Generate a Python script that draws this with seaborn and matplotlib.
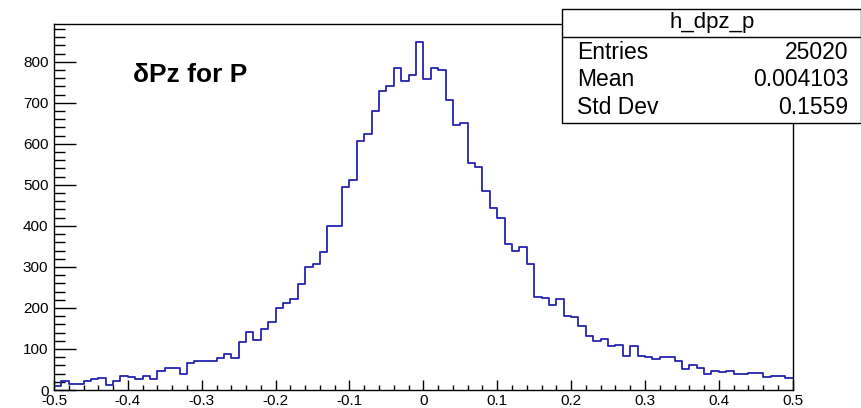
import numpy as np
import pandas as pd
import matplotlib
matplotlib.use("Agg")
import matplotlib.pyplot as plt
import seaborn as sns
from matplotlib.patches import Rectangle
from matplotlib.lines import Line2D
from matplotlib.ticker import MultipleLocator

# ---- data (100 bins on [-0.5, 0.5]) ----
x_min = -0.5
x_max = 0.5
n_bins = 100
counts = [9, 22, 15, 15, 22, 26, 29, 11, 22, 34,
          32, 28, 34, 28, 46, 53, 53, 39, 66, 70,
          70, 70, 77, 87, 77, 118, 142, 122, 148, 166,
          200, 213, 221, 259, 300, 307, 337, 400, 400, 495,
          513, 606, 623, 681, 729, 740, 784, 753, 767, 849,
          757, 784, 781, 708, 646, 650, 554, 543, 485, 444,
          420, 355, 338, 348, 306, 227, 225, 207, 221, 181,
          177, 156, 131, 119, 125, 108, 110, 84, 107, 84,
          80, 76, 81, 81, 70, 50, 62, 53, 39, 46,
          43, 46, 39, 39, 42, 42, 32, 35, 35, 29]
hist_name = "h_dpz_p"
title_text = "δPz for P"
stat_labels = ["Entries", "Mean", "Std Dev"]
stat_values = ["25020", "0.004103", "0.1559"]
x_ticks = [-0.5, -0.4, -0.3, -0.2, -0.1, 0, 0.1, 0.2, 0.3, 0.4, 0.5]
x_tick_labels = ["-0.5", "-0.4", "-0.3", "-0.2", "-0.1", "0", "0.1", "0.2", "0.3", "0.4", "0.5"]
y_ticks = [0, 100, 200, 300, 400, 500, 600, 700, 800]

edges = np.linspace(x_min, x_max, n_bins + 1)
centers = 0.5 * (edges[:-1] + edges[1:])
df = pd.DataFrame({"dpz": centers, "n": counts})

# ---- figure ----
sns.set_style("white")
plt.rcParams["font.family"] = ["Liberation Sans", "DejaVu Sans"]
plt.rcParams["axes.unicode_minus"] = False
plt.rcParams["text.color"] = "black"
plt.rcParams["xtick.color"] = "black"
plt.rcParams["ytick.color"] = "black"
plt.rcParams["xtick.labelcolor"] = "black"
plt.rcParams["ytick.labelcolor"] = "black"

W, H = 862, 408
fig = plt.figure(figsize=(W / 100, H / 100), dpi=100)
ax = fig.add_axes([54 / W, 1 - 390 / H, (792.7 - 54) / W, (390 - 24.3) / H])

sns.histplot(data=df, x="dpz", weights="n", bins=n_bins, binrange=(x_min, x_max),
             element="step", fill=False, color="#2424b0", linewidth=1.3, ax=ax)

ax.set_xlim(x_min, x_max)
ax.set_ylim(0, 1.05 * max(counts))
ax.set_xlabel("")
ax.set_ylabel("")
ax.set_xticks(x_ticks)
ax.set_xticklabels(x_tick_labels)
ax.set_yticks(y_ticks)
ax.xaxis.set_minor_locator(MultipleLocator(0.02))
ax.yaxis.set_minor_locator(MultipleLocator(20))
for s in ax.spines.values():
    s.set_linewidth(1.0)
    s.set_color("black")
ax.spines["right"].set_visible(True)
ax.spines["top"].set_visible(True)

ax.tick_params(axis="y", which="major", direction="in", length=16, width=1.0,
               labelsize=11, pad=4, left=True, right=False, colors="black")
ax.tick_params(axis="y", which="minor", direction="in", length=8, width=1.0,
               left=True, right=False, colors="black")
ax.tick_params(axis="x", which="major", direction="in", length=7.5, width=1.0,
               labelsize=11, pad=3, bottom=True, top=False, colors="black")
ax.tick_params(axis="x", which="minor", direction="in", length=3.8, width=1.0,
               bottom=True, top=False, colors="black")

# title text inside plot
fig.text(133 / W, 1 - 81.7 / H, title_text, fontsize=19, fontweight="bold",
         ha="left", va="baseline", color="black")

# ---- stats box ----
bx0, bx1 = 562 / W, 861.5 / W
by0, by1 = 1 - 122.7 / H, 1 - 9.3 / H
sep = 1 - 36.7 / H
fig.patches.append(Rectangle((bx0, by0), bx1 - bx0, by1 - by0, transform=fig.transFigure,
                             facecolor="white", edgecolor="black", linewidth=1.0, zorder=5))
fig.lines.append(Line2D([bx0, bx1], [sep, sep], transform=fig.transFigure,
                        color="black", linewidth=1.0, zorder=6))
fig.text((bx0 + bx1) / 2, 1 - 22.7 / H, hist_name, fontsize=16,
         ha="center", va="center", zorder=7, color="black")
row_y = [52.7, 80.0, 108.0]
for lab, val, yy in zip(stat_labels, stat_values, row_y):
    fig.text(577 / W, 1 - yy / H, lab, fontsize=16.5, ha="left", va="center",
             zorder=7, color="black")
    fig.text(848.5 / W, 1 - yy / H, val, fontsize=16.5, ha="right", va="center",
             zorder=7, color="black")

fig.savefig("out.png", dpi=100)
